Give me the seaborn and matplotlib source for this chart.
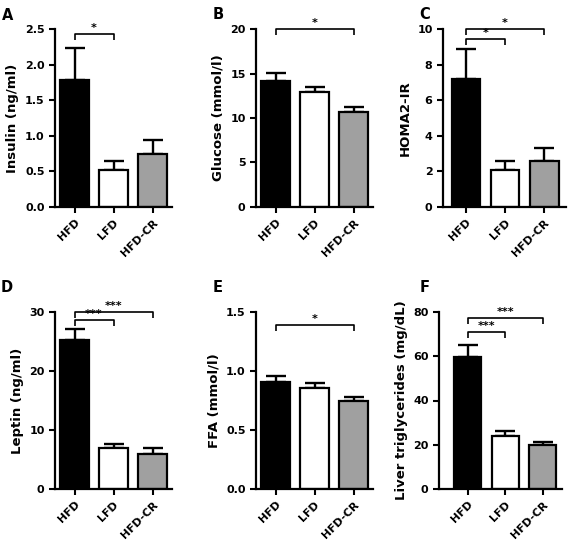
import matplotlib
matplotlib.use("Agg")
import matplotlib.pyplot as plt
import seaborn as sns
import pandas as pd

groups = ["HFD", "LFD", "HFD-CR"]
bar_colors = ["#000000", "#ffffff", "#a0a0a0"]

insulin_mean = [1.78, 0.52, 0.75]
insulin_sem = [0.46, 0.13, 0.19]
glucose_mean = [14.2, 12.9, 10.7]
glucose_sem = [0.9, 0.6, 0.5]
homa_mean = [7.2, 2.1, 2.6]
homa_sem = [1.7, 0.5, 0.7]
leptin_mean = [25.2, 6.9, 6.0]
leptin_sem = [2.0, 0.7, 1.0]
ffa_mean = [0.91, 0.86, 0.745]
ffa_sem = [0.05, 0.035, 0.035]
tg_mean = [59.8, 23.8, 20.0]
tg_sem = [5.5, 2.3, 1.2]

# significance brackets: (group i, group j, bracket height, label)
insulin_sig = [(0, 1, 2.43, "*")]
glucose_sig = [(0, 2, 20.0, "*")]
homa_sig = [(0, 1, 9.43, "*"), (0, 2, 10.0, "*")]
leptin_sig = [(0, 1, 28.7, "***"), (0, 2, 30.0, "***")]
ffa_sig = [(0, 2, 1.39, "*")]
tg_sig = [(0, 1, 70.9, "***"), (0, 2, 77.3, "***")]

W, H = 568, 547

panels = [
    # letter, ylabel, means, sems, yticks, fmt, sig, (left px, right px, top px, bottom px), xlim, letter pos px
    ("A", "Insulin (ng/ml)", insulin_mean, insulin_sem, [0, 0.5, 1.0, 1.5, 2.0, 2.5], "{:.1f}",
     insulin_sig, (55, 172, 29, 207), (-0.5, 2.5), (2, 8)),
    ("B", "Glucose (mmol/l)", glucose_mean, glucose_sem, [0, 5, 10, 15, 20], "{:.0f}",
     glucose_sig, (256, 373, 29, 207), (-0.5, 2.5), (213, 7)),
    ("C", "HOMA2-IR", homa_mean, homa_sem, [0, 2, 4, 6, 8, 10], "{:.0f}",
     homa_sig, (443, 566, 29, 207), (-0.58, 2.55), (419, 7)),
    ("D", "Leptin (ng/ml)", leptin_mean, leptin_sem, [0, 10, 20, 30], "{:.0f}",
     leptin_sig, (55, 172, 312, 489), (-0.5, 2.5), (1, 280)),
    ("E", "FFA (mmol/l)", ffa_mean, ffa_sem, [0, 0.5, 1.0, 1.5], "{:.1f}",
     ffa_sig, (256, 373, 312, 489), (-0.5, 2.5), (213, 280)),
    ("F", "Liver triglycerides (mg/dL)", tg_mean, tg_sem, [0, 20, 40, 60, 80], "{:.0f}",
     tg_sig, (439, 562, 312, 489), (-0.77, 2.51), (420, 280)),
]

sns.set_style("ticks")
plt.rcParams["font.family"] = ["DejaVu Sans"]
plt.rcParams["font.weight"] = "bold"
for key in ["text.color", "axes.labelcolor", "xtick.color", "ytick.color", "axes.edgecolor"]:
    plt.rcParams[key] = "black"

fig = plt.figure(figsize=(W / 100, H / 100), dpi=100)

for letter, ylabel, means, sems, yticks, fmt, sig, box, xlim, lpos in panels:
    left, right, top, bottom = box
    ax = fig.add_axes([left / W, 1 - bottom / H, (right - left) / W, (bottom - top) / H])
    df = pd.DataFrame({"group": groups, "value": means})
    sns.barplot(data=df, x="group", y="value", hue="group", palette=bar_colors,
                legend=False, edgecolor="black", linewidth=1.6, width=0.72,
                saturation=1, errorbar=None, ax=ax)
    ax.errorbar(range(len(groups)), means, yerr=[[0] * len(groups), sems], fmt="none",
                ecolor="black", elinewidth=1.7, capsize=7, capthick=1.7, zorder=0.5)

    ymax = yticks[-1]
    ax.set_ylim(0, ymax)
    ax.set_xlim(*xlim)
    ax.set_yticks(yticks)
    ax.set_yticklabels([fmt.format(t) for t in yticks])
    ax.set_xticks(range(len(groups)))
    ax.set_xticklabels(groups, rotation=45, ha="right", rotation_mode="anchor")
    ax.set_xlabel("")
    ax.set_ylabel(ylabel, fontsize=9.5, fontweight="bold")
    ax.tick_params(width=1.5, length=4, labelsize=8, colors="black")
    sns.despine(ax=ax)
    for s in ["left", "bottom"]:
        ax.spines[s].set_linewidth(1.6)
        ax.spines[s].set_color("black")

    drop = ymax * 0.035
    for i, j, y, lab in sig:
        ax.plot([i, i, j, j], [y - drop, y, y, y - drop], color="black", lw=1.2,
                clip_on=False, solid_capstyle="butt")
        ax.text((i + j) / 2, y + ymax * 0.004, lab, ha="center", va="bottom",
                fontsize=8, fontweight="bold", color="black")

    fig.text(lpos[0] / W, 1 - lpos[1] / H, letter, fontsize=10.5, fontweight="bold",
             ha="left", va="top", color="black")

fig.savefig("out.png", dpi=100)
